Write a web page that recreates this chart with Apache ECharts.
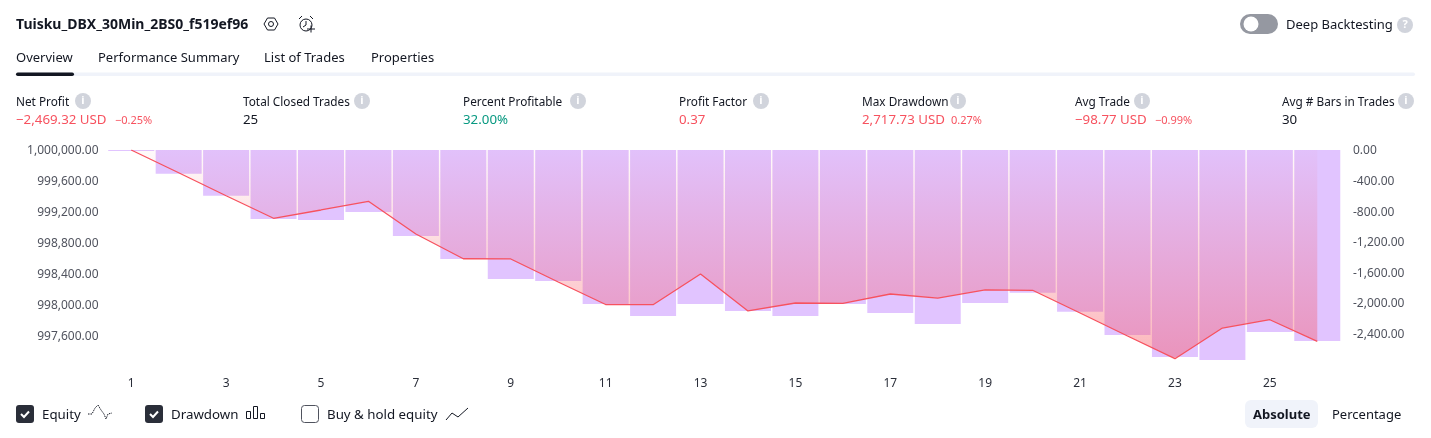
<!DOCTYPE html>
<html><head><meta charset="utf-8">
<style>html,body{margin:0;padding:0;background:#fff;overflow:hidden}#c{width:1431px;height:438px}</style>
<script src="https://cdn.jsdelivr.net/npm/echarts@6/dist/echarts.min.js"></script>
</head><body><div id="c"></div>
<script>
const categories = ['1','2','3','4','5','6','7','8','9','10','11','12','13','14','15','16','17','18','19','20','21','22','23','24','25','26'];
const equity = [1000000,999706,999410,999119,999226,999338,998916,998597,998594,998297,998006,998004,998400,997923,998026,998022,998142,998090,998194,998190,997897,997600,997307,997703,997810,997531];
const drawdown = [-13,-310,-598,-902,-915,-811,-1125,-1426,-1687,-1713,-2014,-2171,-2014,-2106,-2171,-2014,-2132,-2276,-2001,-1866,-2115,-2420,-2707,-2747,-2380,-2498];
const leftTicks = [1000000,999600,999200,998800,998400,998000,997600];
const rightTicks = [0,-400,-800,-1200,-1600,-2000,-2400];
const tabs = ['Overview','Performance Summary','List of Trades','Properties'];
const statLabels = ['Net Profit','Total Closed Trades','Percent Profitable','Profit Factor','Max Drawdown','Avg Trade','Avg # Bars in Trades'];
const statValues = ['\u22122,469.32 USD','25','32.00%','0.37','2,717.73 USD','\u221298.77 USD','30'];
const statPercents = ['\u22120.25%','','','','0.27%','\u22120.99%',''];

const FONT = '"Noto Sans"';
const INK = '#131722', RED = '#F7525F', TEAL = '#089981', GREY = '#D1D4DC';
const fmt = v => v.toLocaleString('en-US',{minimumFractionDigits:2,maximumFractionDigits:2});
const g = [];
const txt = (x,y,s,size,fill,weight,align) => g.push({type:'text',x,y,style:{text:s,fontFamily:FONT,fontSize:size,fill:fill||INK,fontWeight:weight||'normal',align:align||'left',verticalAlign:'middle'}});
const rect = (x,y,w,h,r,fill,stroke) => g.push({type:'rect',shape:{x,y,width:w,height:h,r},style:{fill:fill||'none',stroke:stroke||null,lineWidth:1}});
const circ = (x,y,r,fill,stroke,lw) => g.push({type:'circle',shape:{cx:x,cy:y,r},style:{fill:fill||'none',stroke:stroke||null,lineWidth:lw||1}});
const poly = (pts,stroke,lw,dash) => g.push({type:'polyline',shape:{points:pts},style:{fill:'none',stroke,lineWidth:lw||1,lineDash:dash||null}});

// header
txt(16,25,'Tuisku_DBX_30Min_2BS0_f519ef96',14,INK,'bold');
g.push({type:'polygon',shape:{points:[[264,24],[267.5,18],[274.5,18],[278,24],[274.5,30],[267.5,30]]},style:{fill:'none',stroke:INK,lineWidth:1}});
circ(271,24,2.5,null,INK);
circ(306,25,6,null,INK);
poly([[306,21],[306,25],[303,27]],INK);
poly([[299,19],[302,16]],INK); poly([[310,16],[313,19]],INK);
poly([[307,29],[315,29]],INK); poly([[311,25.5],[311,32.5]],INK);
// toggle
rect(1240,14,38,20,10,'#9598A1');
circ(1251,24,7.5,'#fff');
txt(1286,25,'Deep Backtesting',13,INK);
circ(1405,25,8,GREY);
txt(1405,25,'?',11,'#fff','bold','center');
// tabs
const tabX=[16,98,264,371];
tabs.forEach((t,i)=>txt(tabX[i],58.5,t,13,INK));
rect(16,72.5,1399,3.5,2,'#F0F3FA');
rect(16,72.5,58,3.5,2,'#131722');
// stats
const statX=[16,243,463,679,862,1075,1282];
const infoX=[83,362,578,761,958,1142,1406];
const pctX=[115,0,0,0,951,1155,0];
const valCol=[RED,INK,TEAL,RED,RED,RED,INK];
statLabels.forEach((s,i)=>{
  txt(statX[i],102.5,s,11.8,INK);
  circ(infoX[i],101,8,GREY);
  txt(infoX[i],101,'i',11,'#fff','bold','center');
  txt(statX[i],120.5,statValues[i],13.3,valCol[i]);
  if(statPercents[i]) txt(pctX[i],121,statPercents[i],11,valCol[i]);
});
// legend
const check=(x)=>{rect(x,405,18,18,3,'#2A2E39');poly([[x+5,414],[x+8,417],[x+13,411.5]],'#fff',2);};
check(16);check(145);
rect(301.5,405.5,17,17,3,'#fff','#50535E');
txt(42,415,'Equity',13.3,INK);
txt(171,415,'Drawdown',13.3,INK);
txt(327,415,'Buy & hold equity',13.3,INK);
poly([[88,414],[92,414],[95,408],[98,405],[101,410],[104,414],[106,419],[108,414],[112,413]],INK,1,[1.5,1]);
rect(246.5,411.5,4,7,0,null,INK); rect(253.5,406.5,4,12,0,null,INK); rect(260.5,413.5,4,5,0,null,INK);
poly([[446,420],[452,413],[458,417],[468,408]],INK,1);
// mode buttons
rect(1245,400,73,28,6,'#F0F3FA');
txt(1253,415,'Absolute',13,INK,'bold');
txt(1332,415,'Percentage',13,INK);

const chart = echarts.init(document.getElementById('c'));
chart.setOption({
  animation:false,
  grid:{left:107.5,top:150,width:1233.5,height:217,containLabel:false},
  xAxis:{type:'category',data:categories,boundaryGap:true,
    axisLine:{show:false},axisTick:{show:false},splitLine:{show:false},
    axisLabel:{interval:1,margin:11,color:'#2A2E39',fontFamily:FONT,fontSize:12}},
  yAxis:[
    {type:'value',min:997200,max:1000000,position:'left',
     axisLine:{show:false},axisTick:{show:false},splitLine:{show:false},
     axisLabel:{customValues:leftTicks,margin:9,verticalAlign:'top',lineHeight:2,color:'#50535E',fontFamily:FONT,fontSize:12,formatter:fmt}},
    {type:'value',min:-2838,max:0,position:'right',
     axisLine:{show:false},axisTick:{show:false},splitLine:{show:false},
     axisLabel:{customValues:rightTicks,margin:12,verticalAlign:'top',lineHeight:2,color:'#50535E',fontFamily:FONT,fontSize:12,formatter:fmt}}
  ],
  series:[
    {type:'bar',yAxisIndex:1,data:drawdown,barWidth:46,itemStyle:{color:'#E1C4FF'},z:1},
    {type:'line',yAxisIndex:0,data:equity,symbol:'none',smooth:false,z:2,
     lineStyle:{color:RED,width:1.3},
     areaStyle:{origin:'end',color:{type:'linear',x:0,y:0,x2:0,y2:1,colorStops:[{offset:0,color:'rgba(247,82,95,0.04)'},{offset:1,color:'rgba(247,82,95,0.6)'}]}}}
  ],
  graphic:{elements:g}
});
</script></body></html>
